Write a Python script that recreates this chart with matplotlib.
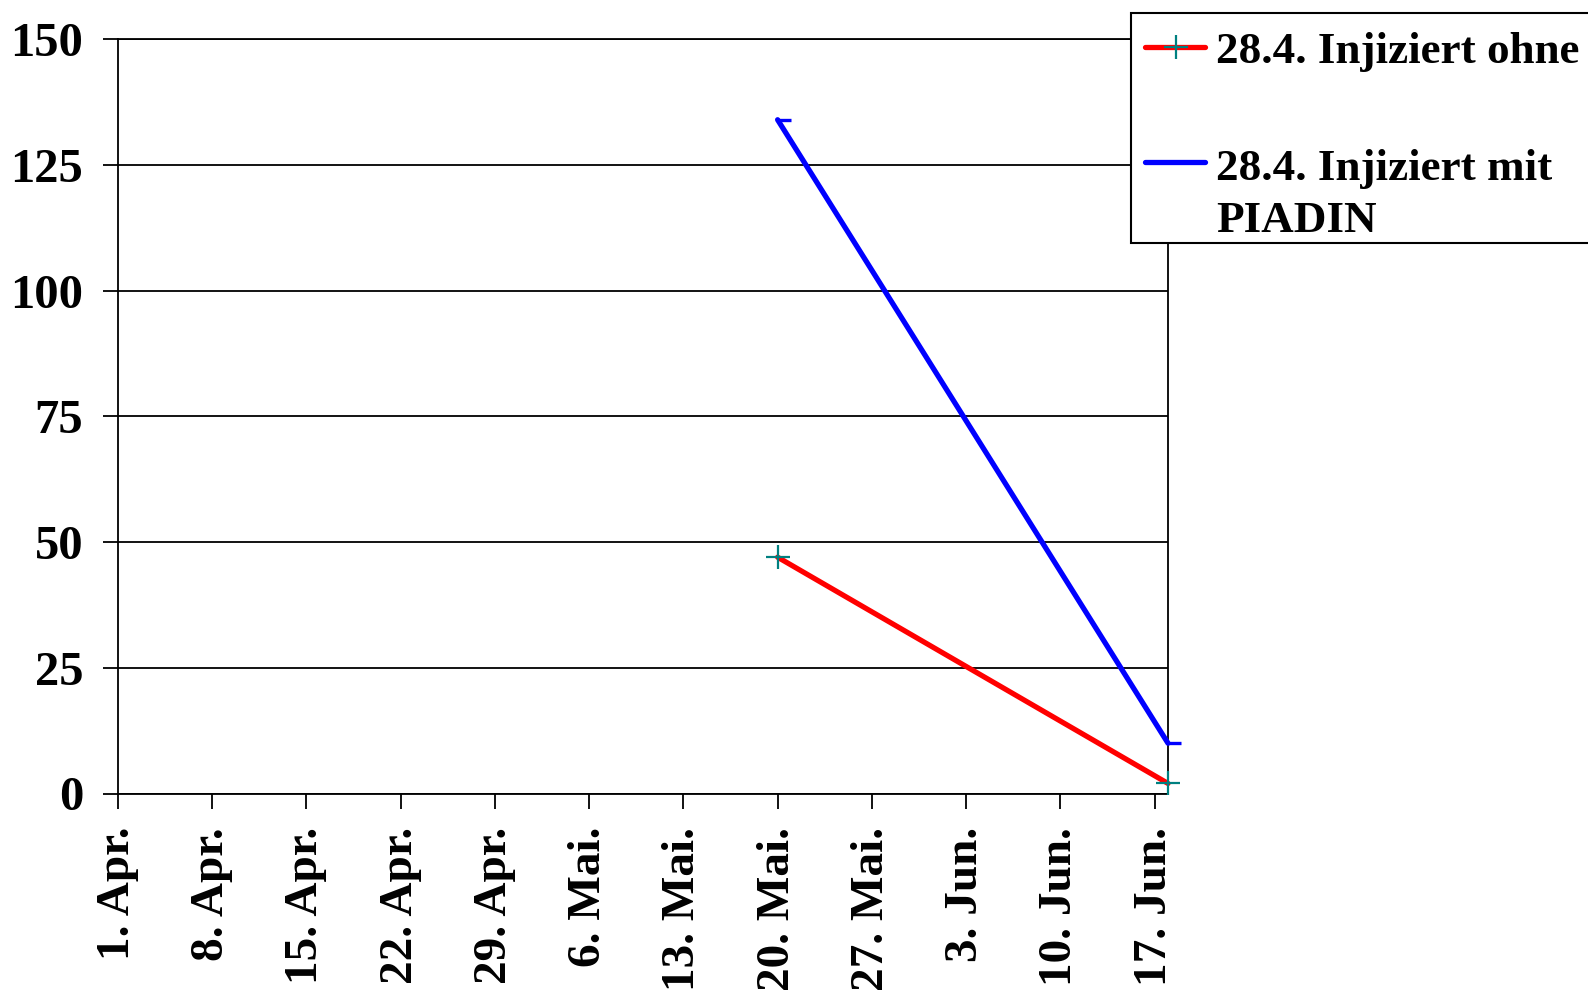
import datetime as dt

import matplotlib
matplotlib.use('Agg')
import matplotlib.dates as mdates
from matplotlib import pyplot as plt
from matplotlib.lines import Line2D
from matplotlib.patches import Rectangle

# data
year = 2003
dates = [dt.date(year, 5, 20), dt.date(year, 6, 18)]
ohne = [47, 2]
mit = [134, 10]
label_ohne = '28.4. Injiziert ohne'
label_mit = '28.4. Injiziert mit\nPIADIN'

tick_dates = [dt.date(year, 4, 1) + dt.timedelta(days=7 * i) for i in range(12)]
tick_labels = ['1. Apr.', '8. Apr.', '15. Apr.', '22. Apr.', '29. Apr.', '6. Mai.',
               '13. Mai.', '20. Mai.', '27. Mai.', '3. Jun.', '10. Jun.', '17. Jun.']
yticks = [0, 25, 50, 75, 100, 125, 150]

plt.rcParams['font.family'] = ['Liberation Serif', 'DejaVu Serif']
plt.rcParams['font.weight'] = 'bold'

W, H = 1588, 991
fig = plt.figure(figsize=(W / 100, H / 100), dpi=100)
ax = fig.add_axes([118 / W, 1 - 793.5 / H, (1168 - 118) / W, (793.5 - 39.3) / H])

ax.set_xlim(mdates.date2num(dt.date(year, 4, 1)), mdates.date2num(dt.date(year, 6, 18)))
ax.set_ylim(0, 150)

ax.set_yticks(yticks)
ax.yaxis.grid(True, color='black', linewidth=1.3)
ax.set_axisbelow(True)
ax.set_xticks(mdates.date2num(tick_dates))
ax.set_xticklabels(tick_labels, rotation=90, fontsize=34, fontweight='bold')
ax.set_yticklabels([str(v) for v in yticks], fontsize=35, fontweight='bold')
ax.tick_params(axis='both', direction='out', length=11, width=1.3, color='black')
ax.tick_params(axis='x', pad=13)
ax.tick_params(axis='y', pad=14)
for s in ax.spines.values():
    s.set_color('black')
    s.set_linewidth(1.3)

# right-half dash marker as used for the blue series
dash = [(0, 0), (1, 0)]

xs = mdates.date2num(dates)
ax.plot(xs, ohne, color='#ff0000', linewidth=3.8, solid_capstyle='round',
        marker='+', markersize=17, markeredgewidth=1.6, markeredgecolor='#008080',
        clip_on=False, zorder=3)
ax.plot(xs, mit, color='#0000ff', linewidth=3.8, solid_capstyle='round',
        marker=dash, markersize=19, markeredgewidth=2.4, markeredgecolor='#0000ff',
        clip_on=False, zorder=3)

# legend box drawn by hand (handle sits at first text line, Excel style)
def fx(px):
    return px / W

def fy(py):
    return 1 - py / H

fig.patches.append(Rectangle((fx(1131), fy(243)), fx(600), (243 - 12.7) / H,
                             transform=fig.transFigure, facecolor='white',
                             edgecolor='black', linewidth=1.5, zorder=5))
fig.lines.append(Line2D([fx(1145), fx(1205)], [fy(46.5), fy(46.5)], transform=fig.transFigure,
                        color='#ff0000', linewidth=3.8, solid_capstyle='round', zorder=6))
fig.lines.append(Line2D([fx(1176)], [fy(46.5)], transform=fig.transFigure, marker='+',
                        markersize=17, markeredgewidth=1.6, markeredgecolor='#008080',
                        linestyle='none', zorder=7))
fig.lines.append(Line2D([fx(1145), fx(1205)], [fy(162), fy(162)], transform=fig.transFigure,
                        color='#0000ff', linewidth=3.8, solid_capstyle='round', zorder=6))
fig.text(fx(1216), fy(63), label_ohne, fontsize=32.5, fontweight='bold', va='baseline',
         ha='left', zorder=8)
fig.text(fx(1216), fy(180), label_mit.split('\n')[0], fontsize=32.5, fontweight='bold',
         va='baseline', ha='left', zorder=8)
fig.text(fx(1216), fy(232), label_mit.split('\n')[1], fontsize=32.5, fontweight='bold',
         va='baseline', ha='left', zorder=8)

fig.savefig('out.png', dpi=100)
